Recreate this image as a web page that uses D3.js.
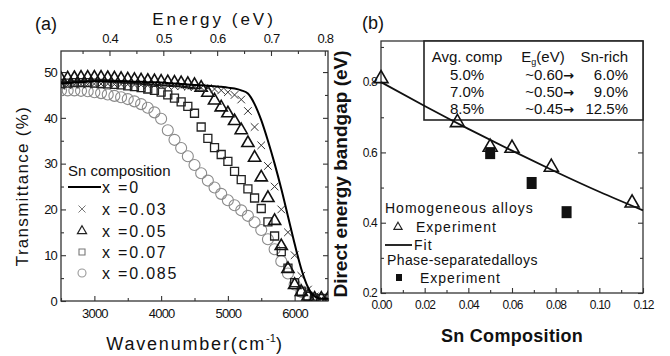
<!DOCTYPE html>
<html>
<head>
<meta charset="utf-8">
<script src="https://cdn.jsdelivr.net/npm/d3@7"></script>
<style>
  body { margin: 0; background: #fff; }
  svg { font-family: "Liberation Sans", Arial, sans-serif; }
</style>
</head>
<body>
<script>
// ---------- data, panel (a): transmittance (%) vs wavenumber (cm-1)
const wavenumber = [2500, 2600, 2700, 2800, 2900, 3000, 3100, 3200, 3300, 3400,
  3500, 3600, 3700, 3800, 3900, 4000, 4100, 4200, 4300, 4400,
  4500, 4600, 4700, 4800, 4900, 5000, 5100, 5200, 5300, 5400,
  5500, 5600, 5700, 5800, 5900, 6000, 6100, 6200, 6300, 6400, 6500];

const trans_x0 = [47.5, 47.6, 47.7, 47.8, 47.9, 48, 48, 48, 48, 48,
  48, 47.9, 47.9, 47.8, 47.8, 47.7, 47.6, 47.5, 47.4, 47.3,
  47.2, 47.1, 47, 46.9, 46.8, 46.6, 46.4, 46, 45.3, 43,
  39.5, 35, 30, 24.5, 18.5, 12.5, 7, 3, 1, 0.5, 0.5];

const trans_x003 = [47, 47.1, 47.2, 47.3, 47.3, 47.4, 47.4, 47.4, 47.3, 47.3,
  47.3, 47.2, 47.2, 47.1, 47.1, 47, 47, 46.9, 46.9, 46.8,
  46.7, 46.6, 46.5, 46.3, 46, 45.6, 45, 44, 41.5, 38,
  34, 29.5, 25, 20, 15, 10, 5.5, 2.5, 1, 0.5, 0.5];

const trans_x005 = [48.5, 48.6, 48.7, 48.8, 48.8, 48.8, 48.8, 48.7, 48.6, 48.5,
  48.4, 48.3, 48.2, 48.1, 48, 47.9, 47.8, 47.7, 47.6, 47.4,
  47.2, 46.6, 45.5, 43.8, 42.3, 41, 39.3, 37.3, 34.5, 31.3,
  27, 22.5, 17.5, 12, 7, 3.5, 2, 1, 0.5, 0.5, 0.5];

const trans_x007 = [47.5, 47.6, 47.7, 47.7, 47.7, 47.6, 47.5, 47.4, 47.3, 47.2,
  47, 46.8, 46.6, 46.3, 46, 45.6, 45, 44.3, 43.5, 42.5,
  41, 38, 35.5, 33.5, 32, 30.5, 28.3, 26.5, 24.5, 22.5,
  20.2, 17.3, 14.2, 10.8, 7.2, 4, 2, 1, 0.5, 0.5, 0.5];

const trans_x0085 = [46, 46, 46, 45.9, 45.8, 45.6, 45.4, 45.1, 44.8, 44.5,
  44.1, 43.6, 43, 42.2, 41.2, 39.8, 37.3, 35.2, 33.4, 31.6,
  29.7, 27.9, 26.3, 24.8, 23.4, 22, 20.9, 19.8, 18.6, 17.2,
  15.5, 13.5, 11.3, 8.7, 6, 3.6, 2, 1, 0.5, 0.5, 0.5];

const legendA = ['x =0', 'x =0.03', 'x =0.05', 'x =0.07', 'x =0.085'];

// ---------- data, panel (b): bandgap vs Sn composition
const homoComp = [0.0, 0.035, 0.05, 0.06, 0.078, 0.115];
const homoGap = [0.81, 0.685, 0.615, 0.612, 0.558, 0.456];
const phaseComp = [0.05, 0.069, 0.085];
const phaseGap = [0.598, 0.513, 0.43];
const fitComp = [0.0, 0.02, 0.04, 0.06, 0.08, 0.10, 0.12];
const fitGap = [0.80, 0.732, 0.667, 0.605, 0.545, 0.488, 0.435];

const tableAvg = ['5.0%', '7.0%', '8.5%'];
const tableEg = ['~0.60', '~0.50', '~0.45'];
const tableRich = ['6.0%', '9.0%', '12.5%'];

const hc = 1.23984e-4; // eV per cm-1

// ---------- svg
const svg = d3.select('body').append('svg')
  .attr('width', 670)
  .attr('height', 356);

const A = { l: 61, r: 328, t: 51, b: 301 };
const B = { l: 381, r: 643, t: 41, b: 293 };

const xA = d3.scaleLinear().domain([2500, 6500]).range([A.l, A.r]);
const yA = d3.scaleLinear().domain([0, 54.6]).range([A.b, A.t]);
const eA = d3.scaleLinear().domain([2500 * hc, 6500 * hc]).range([A.l, A.r]);

const xB = d3.scaleLinear().domain([0, 0.12]).range([B.l, B.r]);
const yB = d3.scaleLinear().domain([0.2, 0.917]).range([B.b, B.t]);

const tickFont = 13;

function styleAxis(g, size) {
  g.select('.domain').remove();
  g.selectAll('line').attr('stroke', '#333').attr('stroke-width', 1.1);
  g.selectAll('text').attr('font-size', size).attr('fill', '#111')
    .attr('letter-spacing', -0.8).attr('font-family', '"Liberation Sans", Arial, sans-serif');
}

function addAxis(axis, tx, ty, size) {
  const g = svg.append('g').attr('transform', `translate(${tx},${ty})`).call(axis);
  styleAxis(g, size || tickFont);
  return g;
}

// ----- panel (a) axes
addAxis(d3.axisBottom(xA).tickValues([2500, 3500, 4500, 5500, 6500]).tickSize(-3).tickFormat(''), 0, A.b);
addAxis(d3.axisBottom(xA).tickValues([3000, 4000, 5000, 6000]).tickSize(-5).tickPadding(8).tickFormat(d3.format('d')), 0, A.b);
addAxis(d3.axisLeft(yA).tickValues([5, 15, 25, 35, 45]).tickSize(-3).tickFormat(''), A.l, 0);
addAxis(d3.axisLeft(yA).tickValues([0, 10, 20, 30, 40, 50]).tickSize(-5).tickPadding(4), A.l, 0);
addAxis(d3.axisRight(yA).tickValues([5, 15, 25, 35, 45]).tickSize(-3).tickFormat(''), A.r, 0);
addAxis(d3.axisRight(yA).tickValues([10, 20, 30, 40, 50]).tickSize(-5).tickFormat(''), A.r, 0);
addAxis(d3.axisTop(eA).tickValues([0.35, 0.45, 0.55, 0.65, 0.75]).tickSize(-3).tickFormat(''), 0, A.t);
addAxis(d3.axisTop(eA).tickValues([0.4, 0.5, 0.6, 0.7, 0.8]).tickSize(-5).tickPadding(8).tickFormat(d3.format('.1f')), 0, A.t);

svg.append('rect')
  .attr('x', A.l).attr('y', A.t)
  .attr('width', A.r - A.l).attr('height', A.b - A.t)
  .attr('fill', 'none').attr('stroke', '#333').attr('stroke-width', 1.3);

// clip for the curves
svg.append('clipPath').attr('id', 'clipA')
  .append('rect').attr('x', A.l).attr('y', A.t - 10)
  .attr('width', A.r - A.l).attr('height', A.b - A.t + 10);

const plotA = svg.append('g').attr('clip-path', 'url(#clipA)');

const crossPath = s => `M${-s},${-s}L${s},${s}M${-s},${s}L${s},${-s}`;

const markerDefs = {
  circle: { d: d3.symbol(d3.symbolCircle, 95)(), stroke: '#8a8a8a', w: 1.1 },
  square: { d: d3.symbol(d3.symbolSquare, 64)(), stroke: '#222', w: 1.3 },
  triangle: { d: d3.symbol(d3.symbolTriangle, 64)(), stroke: '#111', w: 1.6 },
  cross: { d: crossPath(3.8), stroke: '#333', w: 1 }
};

function drawMarkers(vals, type) {
  const m = markerDefs[type];
  plotA.append('g').selectAll('path')
    .data(vals)
    .enter()
    .append('path')
    .attr('transform', (d, i) => `translate(${xA(wavenumber[i])},${yA(d)})`)
    .attr('d', m.d)
    .attr('fill', 'none')
    .attr('stroke', m.stroke)
    .attr('stroke-width', m.w);
}

drawMarkers(trans_x0085, 'circle');
drawMarkers(trans_x007, 'square');
drawMarkers(trans_x005, 'triangle');
drawMarkers(trans_x003, 'cross');

const lineA = d3.line()
  .x((d, i) => xA(wavenumber[i]))
  .y(d => yA(d))
  .curve(d3.curveMonotoneX);

plotA.append('path')
  .datum(trans_x0)
  .attr('d', lineA)
  .attr('fill', 'none')
  .attr('stroke', '#000')
  .attr('stroke-width', 2);

// legend (a)
svg.append('text').attr('x', 68).attr('y', 176)
  .attr('font-size', 15).attr('fill', '#111').text('Sn composition');

const legRowY = [187, 209, 231, 252, 273];
svg.append('line').attr('x1', 68).attr('x2', 101)
  .attr('y1', legRowY[0]).attr('y2', legRowY[0])
  .attr('stroke', '#000').attr('stroke-width', 2.2);

const legMarks = [null,
  { d: crossPath(3.5), stroke: '#777', w: 1 },
  { d: d3.symbol(d3.symbolTriangle, 36)(), stroke: '#222', w: 1.2 },
  { d: d3.symbol(d3.symbolSquare, 36)(), stroke: '#777', w: 1.1 },
  { d: d3.symbol(d3.symbolCircle, 50)(), stroke: '#999', w: 1.1 }];

legendA.forEach((lab, i) => {
  if (legMarks[i]) {
    svg.append('path')
      .attr('transform', `translate(82,${legRowY[i]})`)
      .attr('d', legMarks[i].d)
      .attr('fill', 'none')
      .attr('stroke', legMarks[i].stroke)
      .attr('stroke-width', legMarks[i].w);
  }
  svg.append('text')
    .attr('x', 102).attr('y', legRowY[i] + 6)
    .attr('font-size', 16).attr('letter-spacing', 1.8)
    .attr('fill', '#111').text(lab);
});

// titles (a)
svg.append('text').attr('x', 35).attr('y', 30)
  .attr('font-size', 18).attr('fill', '#111').text('(a)');

svg.append('text').attr('x', 214).attr('y', 25)
  .attr('text-anchor', 'middle').attr('font-size', 17)
  .attr('letter-spacing', 3).attr('fill', '#111').text('Energy (eV)');

const wl = svg.append('text').attr('x', 195).attr('y', 350)
  .attr('text-anchor', 'middle').attr('font-size', 18)
  .attr('letter-spacing', 1.8).attr('fill', '#111');
wl.append('tspan').text('Wavenumber(cm');
wl.append('tspan').attr('dy', -8).attr('font-size', 11).attr('letter-spacing', 0).text('-1');
wl.append('tspan').attr('dy', 8).text(')');

svg.append('text')
  .attr('transform', 'translate(28,186) rotate(-90)')
  .attr('text-anchor', 'middle').attr('font-size', 17)
  .attr('letter-spacing', 1.3).attr('fill', '#111').text('Transmittance (%)');

// ----- panel (b) axes
addAxis(d3.axisBottom(xB).tickValues([0.01, 0.03, 0.05, 0.07, 0.09, 0.11]).tickSize(-3).tickFormat(''), 0, B.b, 12);
addAxis(d3.axisBottom(xB).tickValues([0, 0.02, 0.04, 0.06, 0.08, 0.10, 0.12]).tickSize(-5).tickPadding(7).tickFormat(d3.format('.2f')), 0, B.b, 12);
addAxis(d3.axisLeft(yB).tickValues([0.3, 0.5, 0.7, 0.9]).tickSize(-3).tickFormat(''), B.l, 0, 12);
addAxis(d3.axisLeft(yB).tickValues([0.2, 0.4, 0.6, 0.8]).tickSize(-5).tickPadding(4).tickFormat(d3.format('.1f')), B.l, 0, 12);
addAxis(d3.axisRight(yB).tickValues([0.3, 0.5, 0.7, 0.9]).tickSize(-3).tickFormat(''), B.r, 0, 12);
addAxis(d3.axisRight(yB).tickValues([0.2, 0.4, 0.6, 0.8]).tickSize(-5).tickFormat(''), B.r, 0, 12);

svg.append('rect')
  .attr('x', B.l).attr('y', B.t)
  .attr('width', B.r - B.l).attr('height', B.b - B.t)
  .attr('fill', 'none').attr('stroke', '#333').attr('stroke-width', 1.3);

// inset table
const tbl = { x: 424, y: 41, w: 219, h: 79 };
svg.append('rect')
  .attr('x', tbl.x).attr('y', tbl.y).attr('width', tbl.w).attr('height', tbl.h)
  .attr('fill', '#fff').attr('stroke', '#222').attr('stroke-width', 1.6);

const tf = 15;
svg.append('text').attr('x', 467).attr('y', 62).attr('text-anchor', 'middle')
  .attr('font-size', tf).attr('fill', '#111').text('Avg. comp');
const eg = svg.append('text').attr('x', 543).attr('y', 62).attr('text-anchor', 'middle')
  .attr('font-size', tf).attr('fill', '#111');
eg.append('tspan').text('E');
eg.append('tspan').attr('dy', 3).attr('font-size', 9).text('g');
eg.append('tspan').attr('dy', -3).text('(eV)');
svg.append('text').attr('x', 628).attr('y', 62).attr('text-anchor', 'end')
  .attr('font-size', tf).attr('fill', '#111').text('Sn-rich');

const rowY = [80, 97, 114];
tableAvg.forEach((t, i) => {
  svg.append('text').attr('x', 467).attr('y', rowY[i]).attr('text-anchor', 'middle')
    .attr('font-size', tf).attr('fill', '#111').text(t);
  const r = svg.append('text').attr('x', 574).attr('y', rowY[i]).attr('text-anchor', 'end')
    .attr('font-size', tf).attr('fill', '#111');
  r.append('tspan').text(tableEg[i]);
  r.append('tspan').attr('font-weight', 'bold').attr('font-family', '"DejaVu Sans", sans-serif')
    .attr('font-size', 13).text('\u2192');
  svg.append('text').attr('x', 628).attr('y', rowY[i]).attr('text-anchor', 'end')
    .attr('font-size', tf).attr('fill', '#111').text(tableRich[i]);
});

// fit line
const fitLine = d3.line()
  .x((d, i) => xB(fitComp[i]))
  .y(d => yB(d))
  .curve(d3.curveNatural);

svg.append('path')
  .datum(fitGap)
  .attr('d', fitLine)
  .attr('fill', 'none')
  .attr('stroke', '#111')
  .attr('stroke-width', 1.8);

// phase-separated (filled squares)
svg.append('g').selectAll('rect')
  .data(phaseGap)
  .enter()
  .append('rect')
  .attr('x', (d, i) => xB(phaseComp[i]) - 5)
  .attr('y', d => yB(d) - 6)
  .attr('width', 10)
  .attr('height', 12)
  .attr('fill', '#111');

// homogeneous (open triangles)
svg.append('g').selectAll('path')
  .data(homoGap)
  .enter()
  .append('path')
  .attr('transform', (d, i) => `translate(${xB(homoComp[i])},${yB(d)})`)
  .attr('d', d3.symbol(d3.symbolTriangle, 85)())
  .attr('fill', 'none')
  .attr('stroke', '#111')
  .attr('stroke-width', 1.6);

// legend (b)
const lf = 14;
svg.append('text').attr('x', 385).attr('y', 213)
  .attr('font-size', lf).attr('letter-spacing', 1).attr('fill', '#111').text('Homogeneous alloys');
svg.append('path').attr('transform', 'translate(398,227)')
  .attr('d', d3.symbol(d3.symbolTriangle, 30)())
  .attr('fill', 'none').attr('stroke', '#222').attr('stroke-width', 1.1);
svg.append('text').attr('x', 416).attr('y', 232)
  .attr('font-size', lf).attr('letter-spacing', 1).attr('fill', '#111').text('Experiment');
svg.append('line').attr('x1', 385).attr('x2', 412).attr('y1', 245).attr('y2', 245)
  .attr('stroke', '#111').attr('stroke-width', 1.8);
svg.append('text').attr('x', 414).attr('y', 250)
  .attr('font-size', lf).attr('letter-spacing', 1).attr('fill', '#111').text('Fit');
svg.append('text').attr('x', 387).attr('y', 265)
  .attr('font-size', lf).attr('letter-spacing', 0.4).attr('fill', '#111').text('Phase-separatedalloys');
svg.append('rect').attr('x', 396).attr('y', 274).attr('width', 6).attr('height', 7).attr('fill', '#111');
svg.append('text').attr('x', 420).attr('y', 283)
  .attr('font-size', lf).attr('letter-spacing', 1).attr('fill', '#111').text('Experiment');

// titles (b)
svg.append('text').attr('x', 362).attr('y', 29)
  .attr('font-size', 18).attr('fill', '#111').text('(b)');

svg.append('text').attr('x', 512).attr('y', 342)
  .attr('text-anchor', 'middle').attr('font-size', 18).attr('font-weight', 'bold')
  .attr('letter-spacing', 0.3).attr('fill', '#111').text('Sn Composition');

svg.append('text')
  .attr('transform', 'translate(347,174) rotate(-90)')
  .attr('text-anchor', 'middle').attr('font-size', 19).attr('font-weight', 'bold')
  .attr('fill', '#111').text('Direct energy bandgap (eV)');
</script>
</body>
</html>
